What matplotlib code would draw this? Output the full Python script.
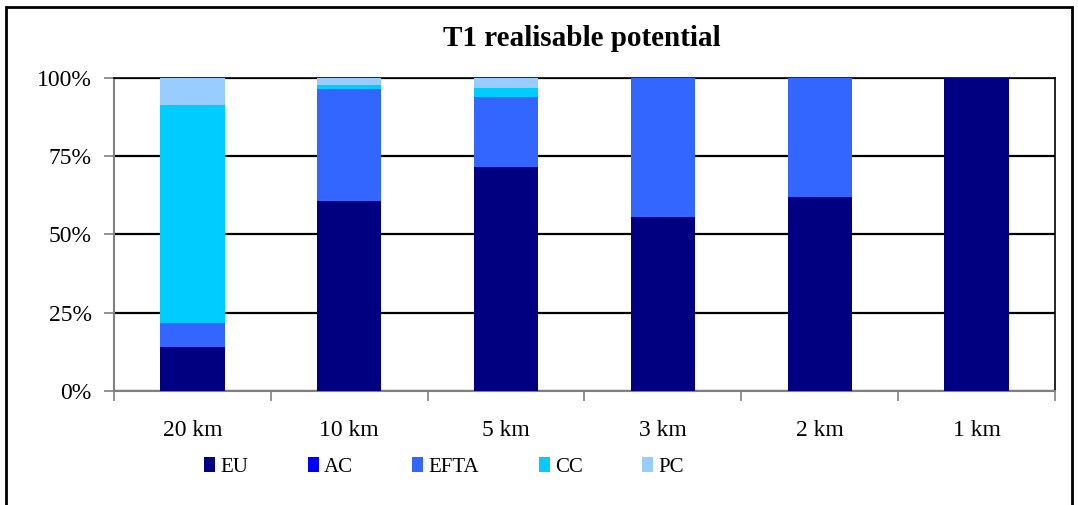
import numpy as np
import matplotlib
matplotlib.use("Agg")
import matplotlib.pyplot as plt
from matplotlib.patches import Patch, Rectangle
from matplotlib.ticker import FixedLocator, PercentFormatter

plt.rcParams['font.family'] = ['Liberation Serif', 'DejaVu Serif']

categories = ['20 km', '10 km', '5 km', '3 km', '2 km', '1 km']
series = ['EU', 'AC', 'EFTA', 'CC', 'PC']
# shares in percent, each column sums to 100
eu   = [14.0, 60.6, 71.5, 55.5, 61.9, 100.0]
ac   = [0.0, 0.0, 0.0, 0.0, 0.0, 0.0]
efta = [7.7, 35.8, 22.3, 44.5, 38.1, 0.0]
cc   = [69.7, 1.3, 2.9, 0.0, 0.0, 0.0]
pc   = [8.6, 2.3, 3.3, 0.0, 0.0, 0.0]
colours = ['#000080', '#0000FF', '#3366FF', '#00CCFF', '#99CCFF']

fig = plt.figure(figsize=(10.78, 5.05), dpi=100)
ax = fig.add_axes([114/1078, 1-391/505, (1055-114)/1078, (391-77.7)/505])

x = np.arange(len(categories))
bottom = np.zeros(len(categories))
for name, vals, col in zip(series, [eu, ac, efta, cc, pc], colours):
    vals = np.array(vals)
    ax.bar(x, vals, 0.41, bottom=bottom, color=col, zorder=3, label=name)
    bottom += vals

ax.set_xlim(-0.5, len(categories) - 0.5)
ax.set_ylim(0, 100)
ax.set_yticks([0, 25, 50, 75, 100])
ax.yaxis.set_major_formatter(PercentFormatter(decimals=0))
ax.grid(axis='y', color='black', linewidth=1.6, zorder=1)

# category boundaries get the tick marks, centres get the labels
ax.xaxis.set_major_locator(FixedLocator(np.arange(-0.5, len(categories), 1)))
ax.xaxis.set_minor_locator(FixedLocator(x))
ax.set_xticklabels([], minor=False)
ax.set_xticklabels(categories, minor=True)
ax.tick_params(axis='x', which='major', length=7, color='#808080', width=1.2)
ax.tick_params(axis='x', which='minor', length=0, pad=21, labelsize=17)
ax.tick_params(axis='y', length=7, color='#808080', width=1.2, pad=9, labelsize=17)

for side in ['left', 'bottom']:
    ax.spines[side].set_color('#808080')
    ax.spines[side].set_linewidth(1.5)
for side in ['top', 'right']:
    ax.spines[side].set_color('black')
    ax.spines[side].set_linewidth(1.2)

fig.text(582/1078, 1-38/505, 'T1 realisable potential', ha='center', va='center',
         fontsize=21, fontweight='bold')

handles = [Patch(facecolor=c, edgecolor='none') for c in colours]
fig.legend(handles, series, loc='center', bbox_to_anchor=(444/1078, 1-467/505), ncol=5,
           frameon=False, fontsize=15, handlelength=0.53, handleheight=0.75,
           handletextpad=0.25, columnspacing=2.85)

# chart frame
fig.patches.append(Rectangle((6/1078, -0.1), (1072-6)/1078, 1.1-7/505, transform=fig.transFigure,
                             fill=False, edgecolor='black', linewidth=2))

fig.savefig('out.png', dpi=100)
